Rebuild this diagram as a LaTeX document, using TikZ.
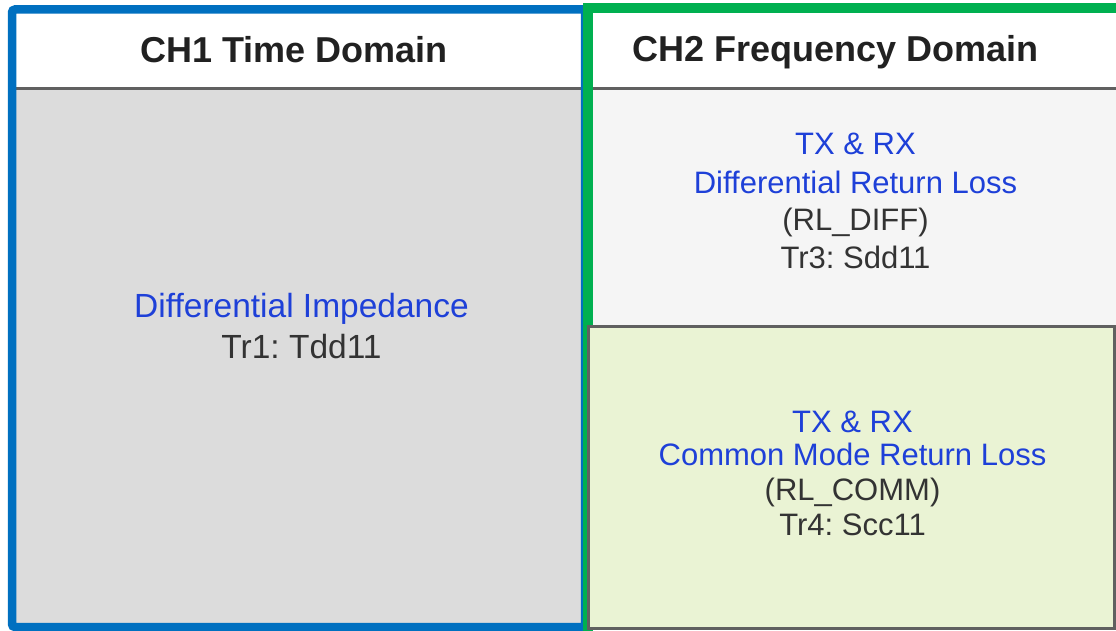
\documentclass[tikz,border=0pt]{standalone}
\usepackage{fontspec}
\setmainfont{Liberation Sans}
\frenchspacing
\usetikzlibrary{positioning}
\definecolor{ch1blue}{RGB}{0,112,192}
\definecolor{ch2green}{RGB}{0,176,80}
\definecolor{txtblue}{RGB}{30,64,216}
\definecolor{txtgray}{RGB}{51,51,51}
\definecolor{panelgray}{RGB}{220,220,220}
\definecolor{panellight}{RGB}{245,245,245}
\definecolor{panelgreen}{RGB}{234,243,212}
\definecolor{rulegray}{RGB}{96,96,96}
\tikzset{panel/.style={rectangle,inner sep=0pt,outer sep=0pt,anchor=north west},
         frame/.style={panel,draw},
         head/.style={font=\fontsize{36}{43}\selectfont\bfseries,text=black!87,anchor=base},
         bigtxt/.style={font=\fontsize{33.5}{40}\selectfont,anchor=base},
         smalltxt/.style={font=\fontsize{31}{37}\selectfont,anchor=base},
         bluetxt/.style={text=txtblue},
         graytxt/.style={text=txtgray}}
\begin{document}
\begin{tikzpicture}[x=1pt,y=-1pt]
    \useasboundingbox (0,0) rectangle (1116,631);
    \clip (0,0) rectangle (1116,631);
    \fill[white] (0,0) rectangle (1116,631);
    % panels
    \node (ch1head) [panel, fill=white, minimum width=573pt, minimum height=80pt] at (12,9) {};
    \node (ch1body) [panel, fill=panelgray, minimum width=573pt, minimum height=540pt] at (12,89) {};
    \node (ch2head) [panel, fill=white, minimum width=528pt, minimum height=81pt] at (588,8) {};
    \node (ch2body) [panel, fill=panellight, minimum width=528pt, minimum height=238pt] at (588,89) {};
    \draw[rulegray, line width=3pt] (ch1head.south west) -- (ch2head.south east);
    % channel frames
    \node (ch1) [frame, draw=ch1blue, line width=8.5pt, rounded corners=3pt, minimum width=573pt, minimum height=617.5pt] at (12,9.5) {};
    \node (ch2) [frame, draw=ch2green, line width=10pt, minimum width=560pt, minimum height=640pt] at (588,8.5) {};
    \node (rlcomm) [frame, draw=rulegray, fill=panelgreen, line width=3pt, minimum width=526pt, minimum height=302pt] at (588.5,326.5) {};
    % headers
    \node (h1) [head] at (294,63) {CH1 Time Domain};
    \node (h2) [head] at (835.5,62) {CH2 Frequency Domain};
    % CH1 traces
    \node (imp) [bigtxt, bluetxt] at (301.5,317) {Differential Impedance};
    \node (tr1) [bigtxt, graytxt] at (301.5,358) {Tr1: Tdd11};
    % CH2 traces
    \node (rd1) [smalltxt, bluetxt] at (855.5,155) {TX \& RX};
    \node (rd2) [smalltxt, bluetxt] at (855.5,194) {Differential Return Loss};
    \node (rd3) [smalltxt, graytxt] at (855.5,230) {(RL\_DIFF)};
    \node (tr3) [smalltxt, graytxt] at (855.5,268) {Tr3: Sdd11};
    \node (rc1) [smalltxt, bluetxt] at (852.5,432) {TX \& RX};
    \node (rc2) [smalltxt, bluetxt] at (852.5,465) {Common Mode Return Loss};
    \node (rc3) [smalltxt, graytxt] at (852.5,500) {(RL\_COMM)};
    \node (tr4) [smalltxt, graytxt] at (852.5,535) {Tr4: Scc11};
\end{tikzpicture}
\end{document}
